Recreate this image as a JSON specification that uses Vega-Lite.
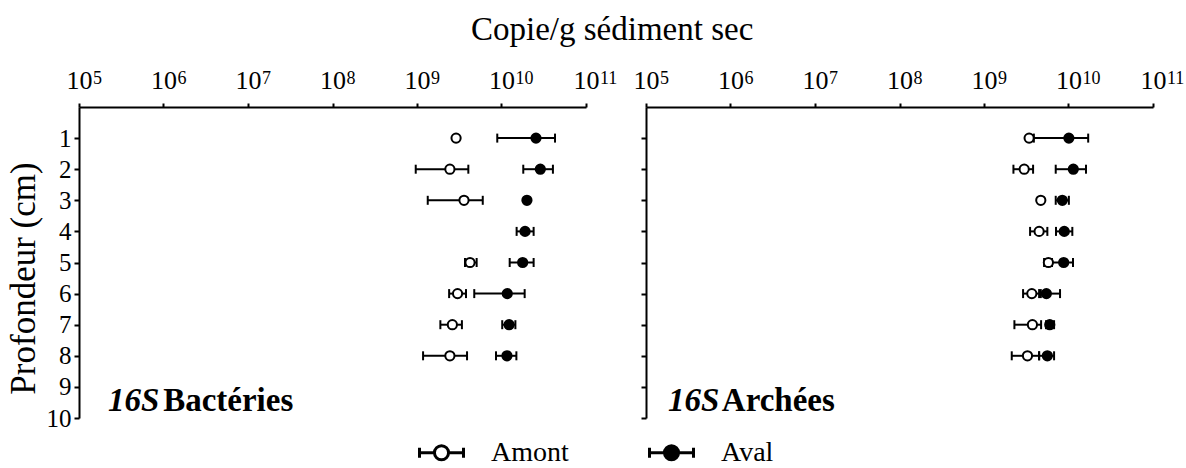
{
  "$schema": "https://vega.github.io/schema/vega-lite/v6.json",
  "padding": {"left": 6, "top": 14, "right": 5, "bottom": 3},
  "background": "white",
  "title": {"text": "Copie/g sédiment sec", "font": "Liberation Serif", "fontSize": 33, "fontWeight": "normal", "color": "black", "anchor": "middle", "frame": "bounds", "offset": 20, "dx": 17},
  "config": {
    "view": {"stroke": null},
    "font": "Liberation Serif",
    "axis": {"grid": false, "domainColor": "black", "tickColor": "black", "labelColor": "black", "titleColor": "black", "labelFont": "Liberation Serif", "titleFont": "Liberation Serif", "domainWidth": 2, "tickWidth": 2}
  },
  "datasets": {
    "d": [
      {"panel": "Bactéries", "site": "Aval", "depth": 1, "mean": 2.56e10, "lo": 8.91e9, "hi": 4.30e10},
      {"panel": "Bactéries", "site": "Aval", "depth": 2, "mean": 2.88e10, "lo": 1.81e10, "hi": 4.06e10},
      {"panel": "Bactéries", "site": "Aval", "depth": 3, "mean": 2.0e10, "lo": 1.9e10, "hi": 2.09e10},
      {"panel": "Bactéries", "site": "Aval", "depth": 4, "mean": 1.90e10, "lo": 1.51e10, "hi": 2.40e10},
      {"panel": "Bactéries", "site": "Aval", "depth": 5, "mean": 1.78e10, "lo": 1.25e10, "hi": 2.40e10},
      {"panel": "Bactéries", "site": "Aval", "depth": 6, "mean": 1.17e10, "lo": 4.76e9, "hi": 1.88e10},
      {"panel": "Bactéries", "site": "Aval", "depth": 7, "mean": 1.23e10, "lo": 1.02e10, "hi": 1.46e10},
      {"panel": "Bactéries", "site": "Aval", "depth": 8, "mean": 1.16e10, "lo": 8.61e9, "hi": 1.50e10},
      {"panel": "Bactéries", "site": "Amont", "depth": 1, "mean": 2.90e9, "lo": null, "hi": null},
      {"panel": "Bactéries", "site": "Amont", "depth": 2, "mean": 2.45e9, "lo": 9.66e8, "hi": 4.05e9},
      {"panel": "Bactéries", "site": "Amont", "depth": 3, "mean": 3.60e9, "lo": 1.34e9, "hi": 6.0e9},
      {"panel": "Bactéries", "site": "Amont", "depth": 5, "mean": 4.24e9, "lo": 3.70e9, "hi": 5.08e9},
      {"panel": "Bactéries", "site": "Amont", "depth": 6, "mean": 3.02e9, "lo": 2.40e9, "hi": 3.80e9},
      {"panel": "Bactéries", "site": "Amont", "depth": 7, "mean": 2.62e9, "lo": 1.89e9, "hi": 3.40e9},
      {"panel": "Bactéries", "site": "Amont", "depth": 8, "mean": 2.45e9, "lo": 1.18e9, "hi": 3.91e9},
      {"panel": "Archées", "site": "Aval", "depth": 1, "mean": 1.01e10, "lo": 3.89e9, "hi": 1.71e10},
      {"panel": "Archées", "site": "Aval", "depth": 2, "mean": 1.14e10, "lo": 7.06e9, "hi": 1.61e10},
      {"panel": "Archées", "site": "Aval", "depth": 3, "mean": 8.45e9, "lo": 7.06e9, "hi": 1.01e10},
      {"panel": "Archées", "site": "Aval", "depth": 4, "mean": 8.91e9, "lo": 7.11e9, "hi": 1.11e10},
      {"panel": "Archées", "site": "Aval", "depth": 5, "mean": 8.77e9, "lo": 6.21e9, "hi": 1.13e10},
      {"panel": "Archées", "site": "Aval", "depth": 6, "mean": 5.47e9, "lo": 4.70e9, "hi": 7.94e9},
      {"panel": "Archées", "site": "Aval", "depth": 7, "mean": 6.00e9, "lo": 5.42e9, "hi": 6.75e9},
      {"panel": "Archées", "site": "Aval", "depth": 8, "mean": 5.62e9, "lo": 4.49e9, "hi": 6.75e9},
      {"panel": "Archées", "site": "Amont", "depth": 1, "mean": 3.42e9, "lo": null, "hi": null},
      {"panel": "Archées", "site": "Amont", "depth": 2, "mean": 2.99e9, "lo": 2.23e9, "hi": 3.81e9},
      {"panel": "Archées", "site": "Amont", "depth": 3, "mean": 4.70e9, "lo": null, "hi": null},
      {"panel": "Archées", "site": "Amont", "depth": 4, "mean": 4.49e9, "lo": 3.51e9, "hi": 5.62e9},
      {"panel": "Archées", "site": "Amont", "depth": 5, "mean": 5.78e9, "lo": 5.14e9, "hi": 6.38e9},
      {"panel": "Archées", "site": "Amont", "depth": 6, "mean": 3.68e9, "lo": 2.90e9, "hi": 4.49e9},
      {"panel": "Archées", "site": "Amont", "depth": 7, "mean": 3.74e9, "lo": 2.29e9, "hi": 4.74e9},
      {"panel": "Archées", "site": "Amont", "depth": 8, "mean": 3.27e9, "lo": 2.13e9, "hi": 4.49e9}
    ],
    "exp": [
      {"v": 1e5, "e": "5"},
      {"v": 1e6, "e": "6"},
      {"v": 1e7, "e": "7"},
      {"v": 1e8, "e": "8"},
      {"v": 1e9, "e": "9"},
      {"v": 1e10, "e": "10"},
      {"v": 1e11, "e": "11"}
    ],
    "lab": [
      {"panel": "Bactéries", "gene": "16S", "group": "Bactéries"},
      {"panel": "Archées", "gene": "16S", "group": "Archées"}
    ]
  },
  "bounds": "flush",
  "spacing": 60,
  "hconcat": [
    {
      "width": 507,
      "height": 311,
      "layer": [
        {
          "data": {"name": "d"},
          "transform": [{"filter": "datum.panel === 'Bactéries'"}],
          "mark": {"type": "rule", "strokeWidth": 2, "color": "black"},
          "encoding": {
            "x": {"field": "lo", "type": "quantitative", "scale": {"type": "log", "domain": [100000, 100000000000]},
              "axis": {"orient": "top", "values": [100000, 1000000, 10000000, 100000000, 1000000000, 10000000000, 100000000000], "labelExpr": "'10'", "labelFontSize": 26, "tickSize": 4, "labelPadding": 10, "labelFlush": false, "labelOverlap": false, "title": null, "minExtent": 34, "maxExtent": 34}},
            "x2": {"field": "hi"},
            "y": {"field": "depth", "type": "quantitative", "scale": {"domain": [0, 10], "reverse": true, "nice": false},
              "axis": {"orient": "left", "values": [1, 2, 3, 4, 5, 6, 7, 8, 9, 10], "labelFontSize": 25, "labelOverlap": false, "labelFlush": false, "tickSize": 5, "labelPadding": 3, "title": "Profondeur (cm)", "titleFontSize": 35, "titleFontWeight": "normal", "titlePadding": 4, "titleY": 171, "minExtent": 34, "maxExtent": 34}}
          }
        },
        {
          "data": {"name": "d"},
          "transform": [{"filter": "datum.panel === 'Bactéries'"}],
          "mark": {"type": "tick", "orient": "vertical", "size": 9, "thickness": 2, "color": "black", "opacity": 1},
          "encoding": {"x": {"field": "lo", "type": "quantitative"},
            "y": {"field": "depth", "type": "quantitative",
              "axis": {"orient": "left", "values": [1, 2, 3, 4, 5, 6, 7, 8, 9, 10], "labelFontSize": 25, "labelOverlap": false, "labelFlush": false, "tickSize": 5, "labelPadding": 3, "title": "Profondeur (cm)", "titleFontSize": 35, "titleFontWeight": "normal", "titlePadding": 4, "titleY": 171, "minExtent": 34, "maxExtent": 34}}}
        },
        {
          "data": {"name": "d"},
          "transform": [{"filter": "datum.panel === 'Bactéries'"}],
          "mark": {"type": "tick", "orient": "vertical", "size": 9, "thickness": 2, "color": "black", "opacity": 1},
          "encoding": {"x": {"field": "hi", "type": "quantitative"},
            "y": {"field": "depth", "type": "quantitative",
              "axis": {"orient": "left", "values": [1, 2, 3, 4, 5, 6, 7, 8, 9, 10], "labelFontSize": 25, "labelOverlap": false, "labelFlush": false, "tickSize": 5, "labelPadding": 3, "title": "Profondeur (cm)", "titleFontSize": 35, "titleFontWeight": "normal", "titlePadding": 4, "titleY": 171, "minExtent": 34, "maxExtent": 34}}}
        },
        {
          "data": {"name": "d"},
          "transform": [{"filter": "datum.panel === 'Bactéries'"}],
          "mark": {"type": "point", "shape": "circle", "filled": true, "stroke": "black", "strokeWidth": 2, "size": 85, "opacity": 1},
          "encoding": {
            "x": {"field": "mean", "type": "quantitative"},
            "y": {"field": "depth", "type": "quantitative",
              "axis": {"orient": "left", "values": [1, 2, 3, 4, 5, 6, 7, 8, 9, 10], "labelFontSize": 25, "labelOverlap": false, "labelFlush": false, "tickSize": 5, "labelPadding": 3, "title": "Profondeur (cm)", "titleFontSize": 35, "titleFontWeight": "normal", "titlePadding": 4, "titleY": 171, "minExtent": 34, "maxExtent": 34}},
            "fill": {"field": "site", "type": "nominal", "scale": {"domain": ["Amont", "Aval"], "range": ["white", "black"]},
              "legend": {"title": null, "orient": "none", "direction": "horizontal", "legendX": 339, "legendY": 322, "symbolType": "M-1,-0.23V0.23M1,-0.23V0.23M-1,0H-0.32M0.32,0H1M-0.32,0A0.32,0.32,0,1,0,0.32,0A0.32,0.32,0,1,0,-0.32,0Z", "symbolSize": 1936, "symbolStrokeColor": "black", "symbolStrokeWidth": 3, "symbolOpacity": 1, "labelFont": "Liberation Serif", "labelFontSize": 28, "labelColor": "black", "labelOffset": 26, "columnPadding": 74, "labelLimit": 300}}
          }
        },
        {
          "data": {"name": "exp"},
          "mark": {"type": "text", "fontSize": 18, "align": "left", "baseline": "alphabetic", "dx": 14, "color": "black"},
          "encoding": {"text": {"field": "e", "type": "nominal"}, "x": {"field": "v", "type": "quantitative"},
            "y": {"datum": -0.74, "type": "quantitative",
              "axis": {"orient": "left", "values": [1, 2, 3, 4, 5, 6, 7, 8, 9, 10], "labelFontSize": 25, "labelOverlap": false, "labelFlush": false, "tickSize": 5, "labelPadding": 3, "title": "Profondeur (cm)", "titleFontSize": 35, "titleFontWeight": "normal", "titlePadding": 4, "titleY": 171, "minExtent": 34, "maxExtent": 34}}}
        },
        {
          "data": {"name": "lab"},
          "transform": [{"filter": "datum.panel === 'Bactéries'"}],
          "mark": {"type": "text", "fontStyle": "italic", "fontWeight": "bold", "fontSize": 33, "align": "left", "baseline": "alphabetic", "color": "black"},
          "encoding": {"text": {"field": "gene", "type": "nominal"}, "x": {"datum": 220000, "type": "quantitative"},
            "y": {"datum": 9.77, "type": "quantitative",
              "axis": {"orient": "left", "values": [1, 2, 3, 4, 5, 6, 7, 8, 9, 10], "labelFontSize": 25, "labelOverlap": false, "labelFlush": false, "tickSize": 5, "labelPadding": 3, "title": "Profondeur (cm)", "titleFontSize": 35, "titleFontWeight": "normal", "titlePadding": 4, "titleY": 171, "minExtent": 34, "maxExtent": 34}}}
        },
        {
          "data": {"name": "lab"},
          "transform": [{"filter": "datum.panel === 'Bactéries'"}],
          "mark": {"type": "text", "fontWeight": "bold", "fontSize": 33, "align": "left", "baseline": "alphabetic", "color": "black"},
          "encoding": {"text": {"field": "group", "type": "nominal"}, "x": {"datum": 990000, "type": "quantitative"},
            "y": {"datum": 9.77, "type": "quantitative",
              "axis": {"orient": "left", "values": [1, 2, 3, 4, 5, 6, 7, 8, 9, 10], "labelFontSize": 25, "labelOverlap": false, "labelFlush": false, "tickSize": 5, "labelPadding": 3, "title": "Profondeur (cm)", "titleFontSize": 35, "titleFontWeight": "normal", "titlePadding": 4, "titleY": 171, "minExtent": 34, "maxExtent": 34}}}
        }
      ]
    },
    {
      "width": 507,
      "height": 311,
      "layer": [
        {
          "data": {"name": "d"},
          "transform": [{"filter": "datum.panel === 'Archées'"}],
          "mark": {"type": "rule", "strokeWidth": 2, "color": "black"},
          "encoding": {
            "x": {"field": "lo", "type": "quantitative", "scale": {"type": "log", "domain": [100000, 100000000000]},
              "axis": {"orient": "top", "values": [100000, 1000000, 10000000, 100000000, 1000000000, 10000000000, 100000000000], "labelExpr": "'10'", "labelFontSize": 26, "tickSize": 4, "labelPadding": 10, "labelFlush": false, "labelOverlap": false, "title": null, "minExtent": 34, "maxExtent": 34}},
            "x2": {"field": "hi"},
            "y": {"field": "depth", "type": "quantitative", "scale": {"domain": [0, 10], "reverse": true, "nice": false},
              "axis": {"orient": "left", "values": [1, 2, 3, 4, 5, 6, 7, 8, 9, 10], "labels": false, "tickSize": 5, "title": null}}
          }
        },
        {
          "data": {"name": "d"},
          "transform": [{"filter": "datum.panel === 'Archées'"}],
          "mark": {"type": "tick", "orient": "vertical", "size": 9, "thickness": 2, "color": "black", "opacity": 1},
          "encoding": {"x": {"field": "lo", "type": "quantitative"},
            "y": {"field": "depth", "type": "quantitative", "axis": {"orient": "left", "values": [1, 2, 3, 4, 5, 6, 7, 8, 9, 10], "labels": false, "tickSize": 5, "title": null}}}
        },
        {
          "data": {"name": "d"},
          "transform": [{"filter": "datum.panel === 'Archées'"}],
          "mark": {"type": "tick", "orient": "vertical", "size": 9, "thickness": 2, "color": "black", "opacity": 1},
          "encoding": {"x": {"field": "hi", "type": "quantitative"},
            "y": {"field": "depth", "type": "quantitative", "axis": {"orient": "left", "values": [1, 2, 3, 4, 5, 6, 7, 8, 9, 10], "labels": false, "tickSize": 5, "title": null}}}
        },
        {
          "data": {"name": "d"},
          "transform": [{"filter": "datum.panel === 'Archées'"}],
          "mark": {"type": "point", "shape": "circle", "filled": true, "stroke": "black", "strokeWidth": 2, "size": 85, "opacity": 1},
          "encoding": {
            "x": {"field": "mean", "type": "quantitative"},
            "y": {"field": "depth", "type": "quantitative", "axis": {"orient": "left", "values": [1, 2, 3, 4, 5, 6, 7, 8, 9, 10], "labels": false, "tickSize": 5, "title": null}},
            "fill": {"field": "site", "type": "nominal", "scale": {"domain": ["Amont", "Aval"], "range": ["white", "black"]}, "legend": null}
          }
        },
        {
          "data": {"name": "exp"},
          "mark": {"type": "text", "fontSize": 18, "align": "left", "baseline": "alphabetic", "dx": 14, "color": "black"},
          "encoding": {"text": {"field": "e", "type": "nominal"}, "x": {"field": "v", "type": "quantitative"},
            "y": {"datum": -0.74, "type": "quantitative", "axis": {"orient": "left", "values": [1, 2, 3, 4, 5, 6, 7, 8, 9, 10], "labels": false, "tickSize": 5, "title": null}}}
        },
        {
          "data": {"name": "lab"},
          "transform": [{"filter": "datum.panel === 'Archées'"}],
          "mark": {"type": "text", "fontStyle": "italic", "fontWeight": "bold", "fontSize": 33, "align": "left", "baseline": "alphabetic", "color": "black"},
          "encoding": {"text": {"field": "gene", "type": "nominal"}, "x": {"datum": 182000, "type": "quantitative"},
            "y": {"datum": 9.77, "type": "quantitative", "axis": {"orient": "left", "values": [1, 2, 3, 4, 5, 6, 7, 8, 9, 10], "labels": false, "tickSize": 5, "title": null}}}
        },
        {
          "data": {"name": "lab"},
          "transform": [{"filter": "datum.panel === 'Archées'"}],
          "mark": {"type": "text", "fontWeight": "bold", "fontSize": 33, "align": "left", "baseline": "alphabetic", "color": "black"},
          "encoding": {"text": {"field": "group", "type": "nominal"}, "x": {"datum": 789000, "type": "quantitative"},
            "y": {"datum": 9.77, "type": "quantitative", "axis": {"orient": "left", "values": [1, 2, 3, 4, 5, 6, 7, 8, 9, 10], "labels": false, "tickSize": 5, "title": null}}}
        }
      ]
    }
  ]
}
